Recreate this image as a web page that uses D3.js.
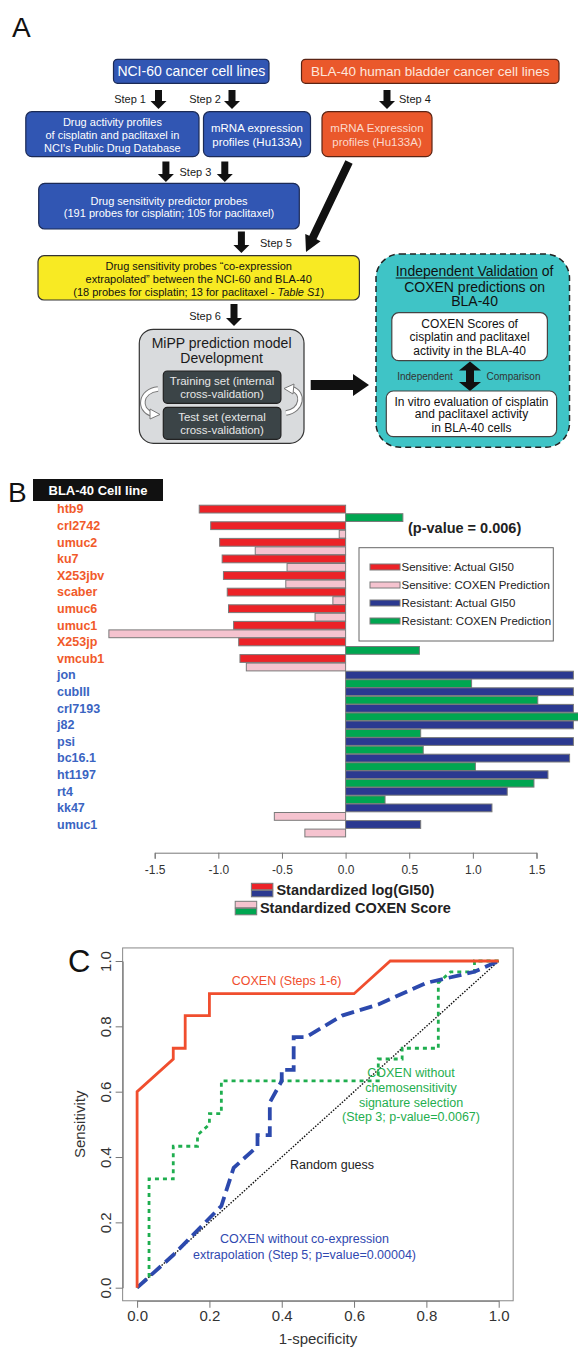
<!DOCTYPE html>
<html>
<head>
<meta charset="utf-8">
<script src="https://cdn.jsdelivr.net/npm/d3@7"></script>
<style>
  body { margin: 0; background: #fff; }
  svg { display: block; }
  text { font-family: "Liberation Sans", Arial, Helvetica, sans-serif; }
</style>
</head>
<body>
<div id="chart"></div>
<script>
// ---- Panel B data ----
var cellLines = ["htb9", "crl2742", "umuc2", "ku7", "X253jbv", "scaber", "umuc6", "umuc1", "X253jp", "vmcub1",
                 "jon", "cubIII", "crl7193", "j82", "psi", "bc16.1", "ht1197", "rt4", "kk47", "umuc1"];
var cellGroup = ["S", "S", "S", "S", "S", "S", "S", "S", "S", "S",
                 "R", "R", "R", "R", "R", "R", "R", "R", "R", "R"];
var actualGI50 = [-1.15, -1.06, -0.99, -0.97, -0.96, -0.93, -0.92, -0.88, -0.84, -0.83,
                  1.79, 1.79, 1.79, 1.79, 1.79, 1.76, 1.59, 1.27, 1.15, 0.59];
var coxenScore = [0.45, -0.05, -0.71, -0.46, -0.47, -0.10, -0.24, -1.86, 0.58, -0.78,
                  0.99, 1.51, 1.84, 0.59, 0.61, 1.02, 1.48, 0.31, -0.56, -0.32];
var bTicks = [-1.5, -1.0, -0.5, 0.0, 0.5, 1.0, 1.5];
var bLegend = ["Sensitive: Actual GI50", "Sensitive: COXEN Prediction", "Resistant: Actual GI50", "Resistant: COXEN Prediction"];

// ---- Panel C data (ROC curves) ----
var coxenX = [0, 0, 0.1, 0.1, 0.133, 0.133, 0.2, 0.2, 0.6, 0.7, 1];
var coxenY = [0, 0.6, 0.7, 0.733, 0.733, 0.833, 0.833, 0.9, 0.9, 1, 1];
var noSigX = [0, 0.033, 0.033, 0.1, 0.1, 0.167, 0.167, 0.2, 0.2, 0.233, 0.233, 0.667, 0.667, 0.733, 0.733, 0.833, 0.833, 0.867, 0.933, 0.933, 1];
var noSigY = [0, 0.033, 0.333, 0.333, 0.433, 0.433, 0.467, 0.5, 0.533, 0.533, 0.633, 0.633, 0.7, 0.7, 0.733, 0.733, 0.933, 0.967, 0.967, 1, 1];
var noCoexpX = [0, 0.1, 0.233, 0.267, 0.333, 0.333, 0.367, 0.367, 0.4, 0.4, 0.433, 0.433, 0.467, 0.567, 0.667, 0.8, 0.933, 1];
var noCoexpY = [0, 0.1, 0.25, 0.367, 0.433, 0.467, 0.467, 0.567, 0.633, 0.667, 0.667, 0.767, 0.767, 0.833, 0.867, 0.933, 0.967, 1];
var cTicks = [0, 0.2, 0.4, 0.6, 0.8, 1.0];

var W = 578, H = 1347;
var svg = d3.select("#chart").append("svg").attr("width", W).attr("height", H);
svg.append("rect").attr("width", W).attr("height", H).attr("fill", "#fff");

// ---------- helpers ----------
function box(x, y, w, h, fill, stroke, rx) {
  return svg.append("rect").attr("x", x).attr("y", y).attr("width", w).attr("height", h)
    .attr("rx", rx).attr("fill", fill).attr("stroke", stroke).attr("stroke-width", 1.2);
}
function lines(arr, cx, ys, size, color, weight) {
  arr.forEach(function (t, i) {
    svg.append("text").attr("x", cx).attr("y", ys[i])
      .attr("text-anchor", "middle").attr("dominant-baseline", "central")
      .style("font-size", size + "px").style("font-weight", weight || "normal")
      .attr("fill", color).text(t);
  });
}
function label(t, x, y, size, anchor, color) {
  return svg.append("text").attr("x", x).attr("y", y).attr("text-anchor", anchor)
    .attr("dominant-baseline", "central").style("font-size", size + "px")
    .attr("fill", color || "#1a1a1a").text(t);
}
// block arrow polygon from (x1,y1) to (x2,y2)
function arrowPts(x1, y1, x2, y2, sw, hw, hl, both) {
  var dx = x2 - x1, dy = y2 - y1, len = Math.sqrt(dx * dx + dy * dy);
  var ux = dx / len, uy = dy / len, nx = -uy, ny = ux;
  var px = x2 - ux * hl, py = y2 - uy * hl;
  var pts = [];
  if (both) {
    var qx = x1 + ux * hl, qy = y1 + uy * hl;
    pts.push([x1, y1], [qx + nx * hw / 2, qy + ny * hw / 2], [qx + nx * sw / 2, qy + ny * sw / 2]);
  } else {
    pts.push([x1 + nx * sw / 2, y1 + ny * sw / 2]);
  }
  pts.push([px + nx * sw / 2, py + ny * sw / 2], [px + nx * hw / 2, py + ny * hw / 2], [x2, y2],
           [px - nx * hw / 2, py - ny * hw / 2], [px - nx * sw / 2, py - ny * sw / 2]);
  if (both) {
    pts.push([qx - nx * sw / 2, qy - ny * sw / 2], [qx - nx * hw / 2, qy - ny * hw / 2]);
  } else {
    pts.push([x1 - nx * sw / 2, y1 - ny * sw / 2]);
  }
  svg.append("polygon").attr("points", pts.map(function (p) { return p.join(","); }).join(" "))
    .attr("fill", "#111");
}
function downArrow(x, y1, y2) { arrowPts(x, y1, x, y2, 7, 16, 8); }

// ================= Panel A : flowchart =================
svg.append("text").attr("x", 12).attr("y", 37).style("font-size", "28px").attr("fill", "#111").text("A");

var blue = "#3156b3", blueEdge = "#1b2a55", orange = "#ea582b", orangeEdge = "#5b2414";

box(113.5, 59.3, 155.5, 24, blue, blueEdge, 4);
lines(["NCI-60 cancer cell lines"], 191.3, [71.3], 14, "#fff");
box(301.5, 59.3, 257.5, 24, orange, orangeEdge, 4);
lines(["BLA-40 human bladder cancer cell lines"], 430.3, [71.3], 13.5, "#fde6dc");

downArrow(158.5, 90, 109);
label("Step 1", 146, 99, 11, "end");
downArrow(232, 90, 109);
label("Step 2", 221, 99, 11, "end");
downArrow(387, 90, 109);
label("Step 4", 399, 99, 11, "start");

box(25.8, 111.7, 173.2, 45, blue, blueEdge, 6);
lines(["Drug activity profiles", "of cisplatin and paclitaxel in", "NCI's Public Drug Database"], 112.4, [122.3, 135, 147.7], 11, "#fff");
box(203.5, 111.7, 107, 45, blue, blueEdge, 6);
lines(["mRNA expression", "profiles (Hu133A)"], 257, [127.7, 141.7], 11.5, "#fff");
box(322, 111.7, 110, 45, orange, orangeEdge, 6);
lines(["mRNA Expression", "profiles (Hu133A)"], 377, [127.7, 141.7], 11.5, "#fbd9cc");

downArrow(165.9, 161.5, 182);
downArrow(224.8, 161.5, 182);
label("Step 3", 195.4, 171.7, 11, "middle");

box(38.7, 183.3, 260.6, 45.7, blue, blueEdge, 6);
lines(["Drug sensitivity predictor probes", "(191 probes for cisplatin; 105 for paclitaxel)"], 169, [200.7, 213.3], 11, "#fff");

downArrow(241.4, 231.5, 253);
label("Step 5", 260, 243.3, 11, "start");
arrowPts(349, 162, 306, 252, 8, 17, 16);

box(38, 255.7, 321.4, 44.3, "#f8ea23", "#333", 6);
lines(["Drug sensitivity probes \u201cco-expression", "extrapolated\u201d between the NCI-60 and BLA-40"], 198.7, [265.7, 279], 11, "#111");
var yl = svg.append("text").attr("x", 198.7).attr("y", 291.7).attr("text-anchor", "middle")
  .attr("dominant-baseline", "central").style("font-size", "11px").attr("fill", "#111");
yl.append("tspan").text("(18 probes for cisplatin; 13 for paclitaxel - ");
yl.append("tspan").style("font-style", "italic").text("Table S1");
yl.append("tspan").text(")");

downArrow(234, 304, 326);
label("Step 6", 221, 315.7, 11, "end");

// MiPP box
box(139.3, 329.3, 164.7, 114, "#d9dbdd", "#333", 14);
lines(["MiPP prediction model", "Development"], 221.6, [343.3, 358.3], 14, "#1a1a1a");
box(163.3, 371, 117.6, 32.3, "#3b4447", "#222", 4);
lines(["Training set (internal", "cross-validation)"], 222, [380.7, 394], 11.5, "#e6e6e6");
box(163.3, 407.3, 117.6, 32, "#3b4447", "#222", 4);
lines(["Test set (external", "cross-validation)"], 222, [417.3, 430], 11.5, "#e6e6e6");

// curved cycle arrows
var cyc = [
  { d: "M158,389 C140,391 138,410 152,414", head: "150,409 160,414.5 150,419" },
  { d: "M286,413 C303,410 304,392 292,389", head: "294,384 284,388.5 293,394" }
];
cyc.forEach(function (c) {
  svg.append("path").attr("d", c.d).attr("fill", "none").attr("stroke", "#777").attr("stroke-width", 5.5);
  svg.append("path").attr("d", c.d).attr("fill", "none").attr("stroke", "#fff").attr("stroke-width", 3.5);
  svg.append("polygon").attr("points", c.head).attr("fill", "#fff").attr("stroke", "#777").attr("stroke-width", 1);
});

arrowPts(310.7, 385, 369, 385, 10, 22, 16);

// validation box
box(376, 254, 193.5, 193.3, "#3fc4c6", "#222", 24).attr("stroke-dasharray", "6,4").attr("stroke-width", 1.5);
var t1 = svg.append("text").attr("x", 474.6).attr("y", 271).attr("text-anchor", "middle")
  .attr("dominant-baseline", "central").style("font-size", "14px").attr("fill", "#111");
var t1a = t1.append("tspan").text("Independent Validation");
t1.append("tspan").text(" of");
var tw = t1.node().getComputedTextLength(), uw = t1a.node().getComputedTextLength();
svg.append("line").attr("x1", 474.6 - tw / 2).attr("x2", 474.6 - tw / 2 + uw)
  .attr("y1", 278).attr("y2", 278).attr("stroke", "#111").attr("stroke-width", 1);
lines(["COXEN predictions on", "BLA-40"], 474.6, [286.7, 301], 14, "#111");
box(391.8, 312.7, 155.6, 48, "#fff", "#444", 7);
lines(["COXEN Scores of", "cisplatin and paclitaxel", "activity in the BLA-40"], 469.6, [324, 337.3, 350.7], 12, "#111");
arrowPts(470, 361.5, 470, 391, 8, 22, 9, true);
label("Independent", 425, 376.7, 10, "middle", "#333");
label("Comparison", 513.5, 376.7, 10, "middle", "#333");
box(386.3, 391, 170.3, 45.7, "#fff", "#444", 7);
lines(["In vitro evaluation of cisplatin", "and paclitaxel activity", "in BLA-40 cells"], 471.5, [401.7, 414.3, 427.7], 12, "#111");

// ================= Panel B : bar chart =================
svg.append("text").attr("x", 8).attr("y", 502).style("font-size", "28px").attr("fill", "#111").text("B");
svg.append("rect").attr("x", 33).attr("y", 479).attr("width", 130).attr("height", 22).attr("fill", "#111");
lines(["BLA-40 Cell line"], 98, [490], 13, "#fff", "bold");

var xB = d3.scaleLinear().domain([-1.5, 1.5]).range([154.7, 536.5]);
var yB = d3.scaleBand().domain(d3.range(cellLines.length)).range([505, 837]).paddingInner(0);
var bh = yB.bandwidth() / 2 - 0.5;

var colActual = function (v) { return v < 0 ? "#ec2227" : "#2b3990"; };
var colCoxen = function (v) { return v < 0 ? "#f5c3cf" : "#00a651"; };

var rows = svg.append("g").selectAll("g")
  .data(cellLines.map(function (c, i) { return { name: c, i: i, g: cellGroup[i], a: actualGI50[i], s: coxenScore[i] }; }))
  .enter().append("g");

rows.append("rect")
  .attr("x", function (d) { return Math.min(xB(0), xB(d.a)); })
  .attr("y", function (d) { return yB(d.i) + 0.2; })
  .attr("width", function (d) { return Math.abs(xB(d.a) - xB(0)); })
  .attr("height", bh)
  .attr("fill", function (d) { return colActual(d.a); })
  .attr("stroke", "#7a7a7a").attr("stroke-width", 1);
rows.append("rect")
  .attr("x", function (d) { return Math.min(xB(0), xB(d.s)); })
  .attr("y", function (d) { return yB(d.i) + bh + 0.9; })
  .attr("width", function (d) { return Math.abs(xB(d.s) - xB(0)); })
  .attr("height", bh)
  .attr("fill", function (d) { return colCoxen(d.s); })
  .attr("stroke", "#7a7a7a").attr("stroke-width", 1);
rows.append("text")
  .attr("x", 57)
  .attr("y", function (d) { return yB(d.i) + bh / 2 + 0.5; })
  .attr("dominant-baseline", "central")
  .style("font-size", "12.5px").style("font-weight", "bold")
  .attr("fill", function (d) { return d.g === "S" ? "#f15a2a" : "#3a64c2"; })
  .text(function (d) { return d.name; });

var axB = svg.append("g").attr("transform", "translate(0,852.7)")
  .call(d3.axisBottom(xB).tickValues(bTicks).tickSize(6).tickPadding(7)
    .tickFormat(function (d) { return d.toFixed(1); }));
axB.selectAll("path, line").attr("stroke", "#777");
axB.selectAll("text").style("font-size", "12px").attr("fill", "#333");

svg.append("text").attr("x", 408).attr("y", 528).attr("dominant-baseline", "central")
  .style("font-size", "14.5px").style("font-weight", "bold").attr("fill", "#222").text("(p-value = 0.006)");

svg.append("rect").attr("x", 359).attr("y", 547.7).attr("width", 194.3).attr("height", 93.3)
  .attr("fill", "#fff").attr("stroke", "#666");
var legCols = ["#ec2227", "#f5c3cf", "#2b3990", "#00a651"];
var leg = svg.append("g").selectAll("g").data(bLegend).enter().append("g")
  .attr("transform", function (d, i) { return "translate(370," + (567 + i * 18) + ")"; });
leg.append("rect").attr("x", 0).attr("y", -3).attr("width", 30).attr("height", 6)
  .attr("fill", function (d, i) { return legCols[i]; }).attr("stroke", "#7a7a7a");
leg.append("text").attr("x", 31.5).attr("y", 0).attr("dominant-baseline", "central")
  .style("font-size", "11.5px").attr("fill", "#222").text(function (d) { return d; });

// bottom legend
var bl = [
  { x: 251.4, cols: ["#ec2227", "#2b3990"], y: 883.3, text: "Standardized log(GI50)", tx: 276.4, ty: 890 },
  { x: 235.2, cols: ["#f5c3cf", "#00a651"], y: 901.3, text: "Standardized COXEN Score", tx: 259.9, ty: 908 }
];
bl.forEach(function (b) {
  b.cols.forEach(function (c, j) {
    svg.append("rect").attr("x", b.x).attr("y", b.y + j * 7).attr("width", 21.5).attr("height", 6.5)
      .attr("fill", c).attr("stroke", "#7a7a7a");
  });
  svg.append("text").attr("x", b.tx).attr("y", b.ty).attr("dominant-baseline", "central")
    .style("font-size", "14.5px").style("font-weight", "bold").attr("fill", "#222").text(b.text);
});

// ================= Panel C : ROC curves =================
svg.append("text").attr("x", 68).attr("y", 972).style("font-size", "31px").attr("fill", "#111").text("C");

var xC = d3.scaleLinear().domain([0, 1]).range([137.1, 498.7]);
var yC = d3.scaleLinear().domain([0, 1]).range([1287.7, 961]);

svg.append("rect").attr("x", xC(-0.04)).attr("y", yC(1.04)).attr("width", xC(1.04) - xC(-0.04))
  .attr("height", yC(-0.04) - yC(1.04)).attr("fill", "none").attr("stroke", "#888");

var axX = svg.append("g").attr("transform", "translate(0," + yC(-0.04) + ")")
  .call(d3.axisBottom(xC).tickValues(cTicks).tickSize(7).tickPadding(3).tickSizeOuter(0)
    .tickFormat(function (d) { return d.toFixed(1); }));
var axY = svg.append("g").attr("transform", "translate(" + xC(-0.04) + ",0)")
  .call(d3.axisLeft(yC).tickValues(cTicks).tickSize(7).tickSizeOuter(0)
    .tickFormat(function (d) { return d.toFixed(1); }));
axY.selectAll("text").attr("transform", "rotate(-90)").attr("x", 0).attr("y", -12)
  .attr("dy", 0).attr("text-anchor", "middle");
[axX, axY].forEach(function (a) {
  a.selectAll("path, line").attr("stroke", "#777");
  a.selectAll("text").style("font-size", "15px").attr("fill", "#333");
});

svg.append("text").attr("x", 318).attr("y", 1338).attr("text-anchor", "middle")
  .attr("dominant-baseline", "central").style("font-size", "15px").attr("fill", "#333").text("1-specificity");
svg.append("text").attr("transform", "translate(79," + yC(0.5) + ") rotate(-90)")
  .attr("text-anchor", "middle").attr("dominant-baseline", "central")
  .style("font-size", "15px").attr("fill", "#333").text("Sensitivity");

var line = d3.line().x(function (d) { return xC(d[0]); }).y(function (d) { return yC(d[1]); });
function zip(a, b) { return a.map(function (v, i) { return [v, b[i]]; }); }

svg.append("path").datum([[0, 0], [1, 1]]).attr("d", line).attr("fill", "none")
  .attr("stroke", "#111").attr("stroke-width", 1.4).attr("stroke-dasharray", "1.5,1.5");
svg.append("path").datum(zip(noSigX, noSigY)).attr("d", line).attr("fill", "none")
  .attr("stroke", "#1fae4f").attr("stroke-width", 2.8).attr("stroke-dasharray", "4,4");
svg.append("path").datum(zip(noCoexpX, noCoexpY)).attr("d", line).attr("fill", "none")
  .attr("stroke", "#2c49ad").attr("stroke-width", 3.8).attr("stroke-dasharray", "13,6");
svg.append("path").datum(zip(coxenX, coxenY)).attr("d", line).attr("fill", "none")
  .attr("stroke", "#f04e2e").attr("stroke-width", 2.8);

lines(["COXEN (Steps 1-6)"], 286.6, [981], 12.5, "#f04e2e");
lines(["COXEN without", "chemosensitivity", "signature selection", "(Step 3; p-value=0.0067)"], 411, [1073.3, 1088.3, 1102.5, 1116.7], 12.5, "#1fae4f");
lines(["Random guess"], 332, [1165], 12.5, "#222");
lines(["COXEN without co-expression", "extrapolation (Step 5; p=value=0.00004)"], 304.5, [1239.3, 1255], 12.5, "#3048b0");
</script>
</body>
</html>
